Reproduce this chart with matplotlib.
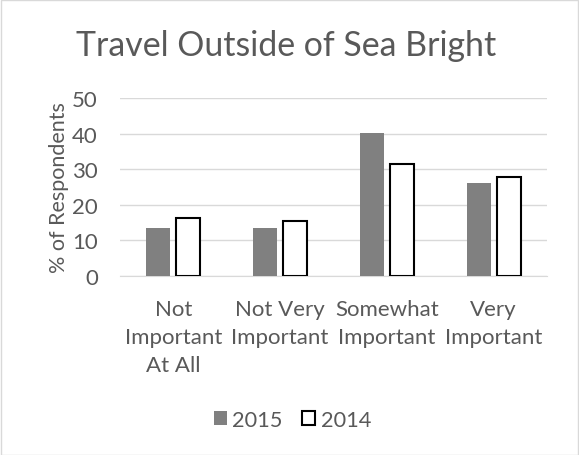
import numpy as np
import matplotlib.pyplot as plt
from matplotlib.patches import Rectangle

categories = ['Not\nImportant\nAt All', 'Not Very\nImportant', 'Somewhat\nImportant', 'Very\nImportant']
vals_2015 = [13.4, 13.4, 40.2, 26.1]
vals_2014 = [16.3, 15.3, 31.5, 27.9]
yticks = [0, 10, 20, 30, 40, 50]

plt.rcParams['font.family'] = ['Lato', 'DejaVu Sans']
txt = '#595959'

fig = plt.figure(figsize=(5.79, 4.56), dpi=100)
fig.patches.append(Rectangle((0.001, 0.001), 0.997, 0.997, transform=fig.transFigure,
                             fill=False, edgecolor='#d9d9d9', linewidth=1))
ax = fig.add_axes([0.2073, 0.3932, 0.7374, 0.3888])

x = np.arange(len(categories))
w = 0.225
ax.bar(x - 0.14, vals_2015, w, color='#808080', label='2015', zorder=3)
ax.bar(x + 0.14, vals_2014, w, color='white', edgecolor='black', linewidth=1.5,
       label='2014', zorder=3)

ax.set_xlim(-0.5, 3.5)
ax.set_ylim(0, 50)
ax.set_yticks(yticks)
ax.yaxis.grid(True, color='#d9d9d9', linewidth=1, zorder=0)
for s in ['top', 'right', 'left']:
    ax.spines[s].set_visible(False)
ax.spines['bottom'].set_color('#d9d9d9')
ax.tick_params(length=0, labelsize=16, labelcolor=txt)
ax.tick_params(axis='y', pad=16)
ax.tick_params(axis='x', pad=17)
ax.set_xticks(x)
ax.set_xticklabels(categories, linespacing=1.5, fontsize=16)
ax.set_ylabel('% of Respondents', fontsize=15.5, color=txt, labelpad=2)

fig.text(0.494, 0.9, 'Travel Outside of Sea Bright', ha='center', va='center',
         fontsize=24.4, color=txt)
fig.legend(loc='center', bbox_to_anchor=(0.505, 0.077), ncol=2, frameon=False,
           fontsize=15.7, handlelength=0.6, handleheight=0.6, handletextpad=0.25,
           columnspacing=0.9, labelcolor=txt)

fig.savefig('out.png', dpi=100)
